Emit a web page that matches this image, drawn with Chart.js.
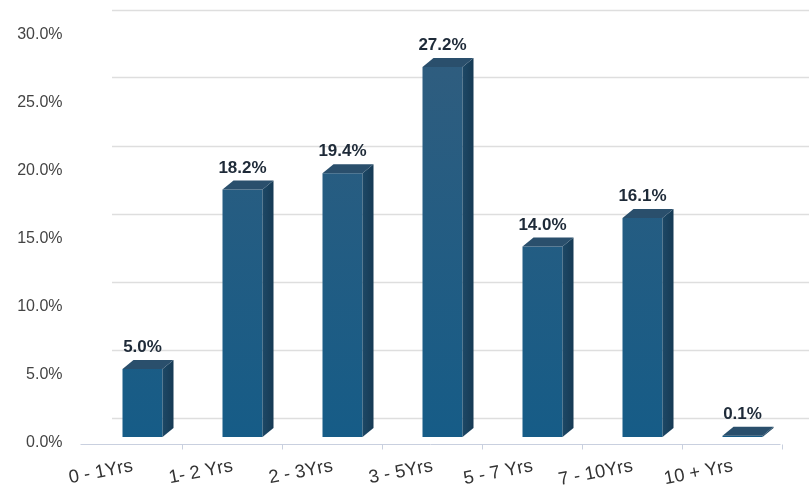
<!DOCTYPE html>
<html>
<head>
<meta charset="utf-8">
<script src="https://cdn.jsdelivr.net/npm/chart.js@4/dist/chart.umd.min.js"></script>
<style>
  html, body { margin: 0; padding: 0; background: #ffffff; }
  #wrap { width: 809px; height: 490px; }
</style>
</head>
<body>
<div id="wrap"><canvas id="c" width="809" height="490"></canvas></div>
<script>
// Tenure buckets and the share of holdings in each
const categories = ['0 - 1Yrs', '1- 2 Yrs', '2 - 3Yrs', '3 - 5Yrs', '5 - 7 Yrs', '7 - 10Yrs', '10 + Yrs'];
const shares = [5.0, 18.2, 19.4, 27.2, 14.0, 16.1, 0.1];
const yTicks = [0, 5, 10, 15, 20, 25, 30];

// depth of the extruded bar faces
const DEPTH_X = 11;
const DEPTH_Y = 9;

const fmt = v => Number(v).toFixed(1) + '%';

const extrude = {
  id: 'extrude',
  beforeDatasetsDraw(chart) {
    const ctx = chart.ctx;
    const ys = chart.scales.y;
    const xs = chart.scales.x;
    const area = chart.chartArea;
    ctx.save();
    // back-wall grid lines, lifted behind the bars
    ctx.strokeStyle = '#dedede';
    ctx.lineWidth = 1.5;
    yTicks.forEach(v => {
      const y = Math.round(ys.getPixelForValue(v) - 19.5) + 0.5;
      ctx.beginPath();
      ctx.moveTo(112, y);
      ctx.lineTo(chart.width, y);
      ctx.stroke();
    });
    // floor edge with category separators
    const fy = area.bottom + 7.5;
    ctx.strokeStyle = '#c9d0df';
    ctx.lineWidth = 1;
    ctx.beginPath();
    ctx.moveTo(area.left - 12, fy);
    ctx.lineTo(area.right - 12, fy);
    ctx.stroke();
    const step = xs.getPixelForValue(1) - xs.getPixelForValue(0);
    for (let i = 1; i <= categories.length; i++) {
      const x = Math.round(xs.getPixelForValue(i) - step / 2 - 11) + 0.5;
      ctx.beginPath();
      ctx.moveTo(x, fy);
      ctx.lineTo(x, fy + 5);
      ctx.stroke();
    }
    ctx.restore();
  },
  afterDatasetsDraw(chart) {
    const ctx = chart.ctx;
    const meta = chart.getDatasetMeta(0);
    ctx.save();
    meta.data.forEach((bar, i) => {
      const p = bar.getProps(['x', 'y', 'base', 'width'], true);
      const l = p.x - p.width / 2;
      const r = p.x + p.width / 2;
      // side face
      const sg = ctx.createLinearGradient(r, 0, r + DEPTH_X, 0);
      sg.addColorStop(0, '#1d4866');
      sg.addColorStop(1, '#163a54');
      ctx.fillStyle = sg;
      ctx.beginPath();
      ctx.moveTo(r, p.y);
      ctx.lineTo(r + DEPTH_X, p.y - DEPTH_Y);
      ctx.lineTo(r + DEPTH_X, p.base - DEPTH_Y);
      ctx.lineTo(r, p.base);
      ctx.closePath();
      ctx.fill();
      // top face
      ctx.fillStyle = '#2a4f6c';
      ctx.beginPath();
      ctx.moveTo(l, p.y);
      ctx.lineTo(l + DEPTH_X, p.y - DEPTH_Y);
      ctx.lineTo(r + DEPTH_X, p.y - DEPTH_Y);
      ctx.lineTo(r, p.y);
      ctx.closePath();
      ctx.fill();
      // value label
      ctx.fillStyle = '#1e2a38';
      ctx.font = 'bold 17px "Liberation Sans", Arial, sans-serif';
      ctx.textAlign = 'center';
      ctx.textBaseline = 'bottom';
      ctx.fillText(fmt(shares[i]), p.x, p.y - DEPTH_Y - 4);
    });
    ctx.restore();
  }
};

new Chart(document.getElementById('c'), {
  type: 'bar',
  data: {
    labels: categories,
    datasets: [{
      data: shares,
      barPercentage: 0.4,
      categoryPercentage: 1.0,
      borderWidth: 0,
      backgroundColor: (context) => {
        const chart = context.chart;
        const a = chart.chartArea;
        if (!a) return '#1f5b82';
        const g = chart.ctx.createLinearGradient(0, a.top, 0, a.bottom);
        g.addColorStop(0, '#315d7e');
        g.addColorStop(1, '#165c87');
        return g;
      }
    }]
  },
  options: {
    responsive: false,
    animation: false,
    devicePixelRatio: 1,
    layout: { padding: { top: 29, right: 16.5, left: 0, bottom: 0 } },
    plugins: { legend: { display: false }, tooltip: { enabled: false } },
    scales: {
      x: {
        grid: { display: false },
        border: { display: false },
        ticks: {
          minRotation: 11,
          maxRotation: 11,
          padding: 10,
          labelOffset: -10,
          color: '#333333',
          font: { family: '"Liberation Sans", Arial, sans-serif', size: 18.5 }
        },
        afterFit(scale) { scale.height = 53; }
      },
      y: {
        min: 0,
        max: 30,
        grid: { display: false },
        border: { display: false },
        ticks: {
          stepSize: 5,
          padding: 22,
          labelOffset: 6,
          color: '#444444',
          font: { family: '"Liberation Sans", Arial, sans-serif', size: 16 },
          callback: (v) => fmt(v)
        },
        afterFit(scale) {
          scale.width = 92.5;
          scale.paddingTop = 0;
          scale.paddingBottom = 0;
        }
      }
    }
  },
  plugins: [extrude]
});
</script>
</body>
</html>
